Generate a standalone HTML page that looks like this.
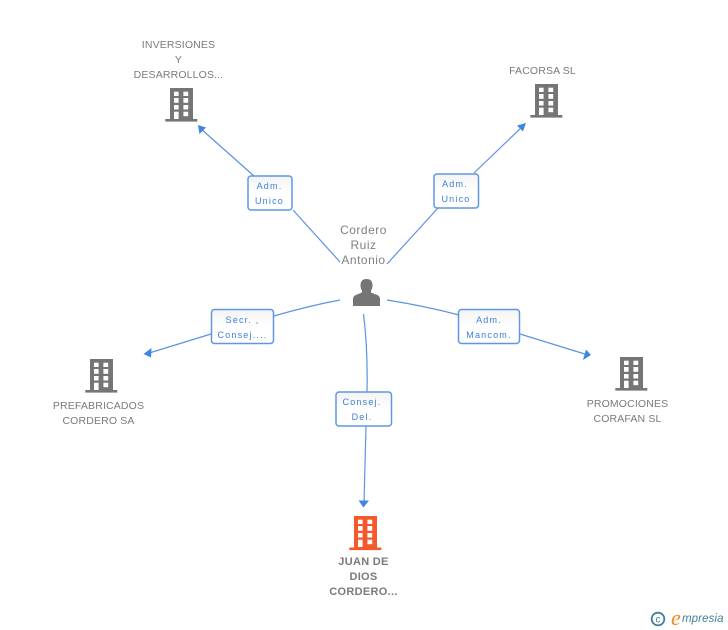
<!DOCTYPE html>
<html><head><meta charset="utf-8"><style>
html,body{margin:0;padding:0;background:#fff}
svg{display:block}
text{font-family:"Liberation Sans",sans-serif}
.n{font-size:10.5px;fill:#7a7a7a;text-anchor:middle;letter-spacing:.15px}
.p{font-size:12px;fill:#808080;text-anchor:middle;letter-spacing:.5px}
.b{font-size:11px;font-weight:bold;fill:#7a7a7a;text-anchor:middle;letter-spacing:.3px}
.l{font-size:9px;fill:#3a7fdc;text-anchor:middle;letter-spacing:1.2px}
.e{fill:none;stroke:#5b93e3;stroke-width:1.2}
.a{fill:#3f85e2}
.r{fill:url(#g);stroke:#5f97e4;stroke-width:1.5}
</style></head><body>
<svg width="728" height="630" viewBox="0 0 728 630" xmlns="http://www.w3.org/2000/svg">
<defs>
<linearGradient id="g" x1="0" y1="0" x2="0" y2="1"><stop offset="0" stop-color="#f3f3f3"/><stop offset=".5" stop-color="#fff"/><stop offset="1" stop-color="#fff"/></linearGradient>
<g id="w" fill="#fff">
<rect x="4" y="3.7" width="4.6" height="4.3"/><rect x="13.4" y="3.7" width="4.8" height="4.3"/>
<rect x="4" y="10" width="4.6" height="4.8"/><rect x="13.4" y="10" width="4.8" height="4.8"/>
<rect x="4" y="17" width="4.6" height="4.5"/><rect x="13.4" y="17" width="4.8" height="4.5"/>
<rect x="4" y="23.7" width="4.6" height="7.3"/><rect x="13.4" y="23.7" width="4.8" height="4.5"/>
</g>
<g id="bg"><rect width="23" height="31" fill="#757575"/><rect x="-4.7" y="31" width="32" height="2.6" fill="#757575"/><use href="#w"/></g>
<g id="bo"><rect width="23" height="31.5" fill="#f4582b"/><rect x="-4.7" y="31.5" width="32" height="2.6" fill="#f4582b"/><use href="#w"/></g>
</defs>

<path class="e" d="M340 262 L293 210"/>
<path class="e" d="M254 176 L200 128"/>
<path class="a" d="M198 125 L206 127.500 L199.500 134 Z"/>
<path class="e" d="M387 264 L438 208"/>
<path class="e" d="M474 173 L524 125"/>
<path class="a" d="M526 123 L523 131.500 L517 125.500 Z"/>
<path class="e" d="M340 300 Q308 306 274 316"/>
<path class="e" d="M211 334 L146 354"/>
<path class="a" d="M143.500 354 L151.500 348 L151 357.500 Z"/>
<path class="e" d="M387 300 Q425 306 459 315"/>
<path class="e" d="M520 334 L588 355"/>
<path class="a" d="M591 355 L583 360 L586 349.500 Z"/>
<path class="e" d="M363.500 314 Q368 350 367 392"/>
<path class="e" d="M366 426 L364 503"/>
<path class="a" d="M363.500 507.500 L358.500 500.500 L369 500.500 Z"/>

<use href="#bg" x="170" y="88"/>
<use href="#bg" x="535" y="84"/>
<use href="#bg" x="90" y="359"/>
<use href="#bg" x="620" y="357"/>
<use href="#bo" x="354" y="516"/>

<path fill="#757575" d="M353 306 L353 298.500 Q353.500 295.500 357 294.500 L362 292.500 L362 290.500 Q360.500 288.500 360.500 285.500 Q360.500 279 366.500 279 Q372.500 279 372.500 285.500 Q372.500 288.500 371 290.500 L371 292.500 L376 294.500 Q379.500 295.500 380 298.500 L380 306 Z"/>

<text class="n" x="178.500" y="48">INVERSIONES</text>
<text class="n" x="178.500" y="63">Y</text>
<text class="n" x="178.500" y="78">DESARROLLOS...</text>
<text class="n" x="542.500" y="74">FACORSA SL</text>
<text class="n" x="98.500" y="409">PREFABRICADOS</text>
<text class="n" x="98.500" y="424">CORDERO SA</text>
<text class="n" x="627.500" y="407">PROMOCIONES</text>
<text class="n" x="627.500" y="422">CORAFAN SL</text>
<text class="b" x="363.500" y="565">JUAN DE</text>
<text class="b" x="363.500" y="580">DIOS</text>
<text class="b" x="363.500" y="595">CORDERO...</text>
<text class="p" x="363.500" y="234">Cordero</text>
<text class="p" x="363.500" y="249">Ruiz</text>
<text class="p" x="363.500" y="264">Antonio</text>

<rect class="r" x="248" y="176" width="44" height="34" rx="3"/>
<text class="l" x="269.500" y="189">Adm.</text><text class="l" x="269.500" y="204">Unico</text>
<rect class="r" x="434" y="174" width="44.500" height="34" rx="3"/>
<text class="l" x="455" y="187">Adm.</text><text class="l" x="456" y="202">Unico</text>
<rect class="r" x="211.500" y="309.500" width="62" height="34" rx="3"/>
<text class="l" x="242.500" y="323">Secr. ,</text><text class="l" x="242.500" y="338">Consej....</text>
<rect class="r" x="458.500" y="309.500" width="61" height="34" rx="3"/>
<text class="l" x="489" y="323">Adm.</text><text class="l" x="489" y="338">Mancom.</text>
<rect class="r" x="336" y="392" width="55.500" height="34" rx="3"/>
<text class="l" x="362" y="405">Consej.</text><text class="l" x="362" y="420">Del.</text>

<circle cx="658" cy="619" r="6.300" fill="none" stroke="#3f8296" stroke-width="1.800"/>
<text x="658" y="622.500" font-size="10" fill="#3f8296" text-anchor="middle">c</text>
<text x="671" y="625" font-size="22" font-style="italic" fill="#f08a1d" style="font-family:'Liberation Serif',serif">e</text>
<text x="682" y="622" font-size="11.500" font-style="italic" fill="#3f8296" style="letter-spacing:.1px">mpresia</text>
</svg>
</body></html>
